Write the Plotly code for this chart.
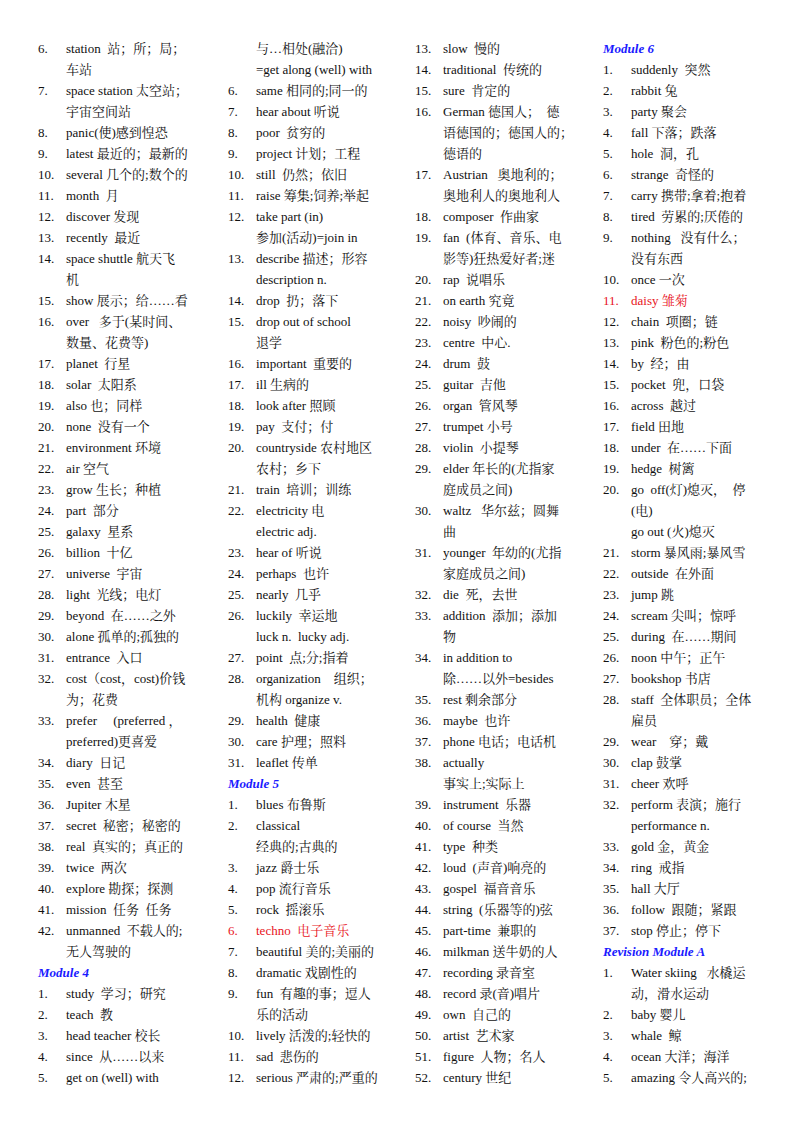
import plotly.graph_objects as go

# each column: (number, text); number "" = continuation line, "#" = module heading
col1 = [("6.", "station  站；所；局；"), ("", "车站"), ("7.", "space station 太空站；"), ("", "宇宙空间站"),
        ("8.", "panic(使)感到惶恐"), ("9.", "latest 最近的；最新的"), ("10.", "several 几个的;数个的"),
        ("11.", "month  月"), ("12.", "discover 发现"), ("13.", "recently  最近"),
        ("14.", "space shuttle 航天飞"), ("", "机"), ("15.", "show 展示；给……看"),
        ("16.", "over   多于(某时间、"), ("", "数量、花费等)"), ("17.", "planet  行星"),
        ("18.", "solar  太阳系"), ("19.", "also 也；同样"), ("20.", "none  没有一个"),
        ("21.", "environment 环境"), ("22.", "air 空气"), ("23.", "grow 生长；种植"),
        ("24.", "part  部分"), ("25.", "galaxy  星系"), ("26.", "billion  十亿"),
        ("27.", "universe  宇宙"), ("28.", "light  光线；电灯"), ("29.", "beyond  在……之外"),
        ("30.", "alone 孤单的;孤独的"), ("31.", "entrance  入口"), ("32.", "cost（cost，cost)价钱"),
        ("", "为；花费"), ("33.", "prefer     (preferred ，"), ("", "preferred)更喜爱"),
        ("34.", "diary  日记"), ("35.", "even  甚至"), ("36.", "Jupiter 木星"),
        ("37.", "secret  秘密；秘密的"), ("38.", "real  真实的；真正的"), ("39.", "twice  两次"),
        ("40.", "explore 勘探；探测"), ("41.", "mission  任务  任务"), ("42.", "unmanned  不载人的;"),
        ("", "无人驾驶的"), ("#", "Module 4"), ("1.", "study  学习；研究"), ("2.", "teach  教"),
        ("3.", "head teacher 校长"), ("4.", "since  从……以来"), ("5.", "get on (well) with")]

col2 = [("", "与…相处(融洽)"), ("", "=get along (well) with"), ("6.", "same 相同的;同一的"),
        ("7.", "hear about 听说"), ("8.", "poor  贫穷的"), ("9.", "project 计划；工程"),
        ("10.", "still  仍然；依旧"), ("11.", "raise 筹集;饲养;举起"), ("12.", "take part (in)"),
        ("", "参加(活动)=join in"), ("13.", "describe 描述；形容"), ("", "description n."),
        ("14.", "drop  扔；落下"), ("15.", "drop out of school"), ("", "退学"),
        ("16.", "important  重要的"), ("17.", "ill 生病的"), ("18.", "look after 照顾"),
        ("19.", "pay  支付；付"), ("20.", "countryside 农村地区"), ("", "农村；乡下"),
        ("21.", "train  培训；训练"), ("22.", "electricity 电"), ("", "electric adj."),
        ("23.", "hear of 听说"), ("24.", "perhaps  也许"), ("25.", "nearly  几乎"),
        ("26.", "luckily  幸运地"), ("", "luck n.  lucky adj."), ("27.", "point  点;分;指着"),
        ("28.", "organization    组织；"), ("", "机构 organize v."), ("29.", "health  健康"),
        ("30.", "care 护理；照料"), ("31.", "leaflet 传单"), ("#", "Module 5"),
        ("1.", "blues 布鲁斯"), ("2.", "classical"), ("", "经典的;古典的"), ("3.", "jazz 爵士乐"),
        ("4.", "pop 流行音乐"), ("5.", "rock  摇滚乐"), ("6.", "techno  电子音乐"),
        ("7.", "beautiful 美的;美丽的"), ("8.", "dramatic 戏剧性的"), ("9.", "fun  有趣的事；逗人"),
        ("", "乐的活动"), ("10.", "lively 活泼的;轻快的"), ("11.", "sad  悲伤的"),
        ("12.", "serious 严肃的;严重的")]

col3 = [("13.", "slow  慢的"), ("14.", "traditional  传统的"), ("15.", "sure  肯定的"),
        ("16.", "German 德国人；  德"), ("", "语德国的；德国人的；"), ("", "德语的"),
        ("17.", "Austrian   奥地利的；"), ("", "奥地利人的奥地利人"), ("18.", "composer  作曲家"),
        ("19.", "fan  (体育、音乐、电"), ("", "影等)狂热爱好者;迷"), ("20.", "rap  说唱乐"),
        ("21.", "on earth 究竟"), ("22.", "noisy  吵闹的"), ("23.", "centre  中心."),
        ("24.", "drum  鼓"), ("25.", "guitar  吉他"), ("26.", "organ  管风琴"),
        ("27.", "trumpet 小号"), ("28.", "violin  小提琴"), ("29.", "elder 年长的(尤指家"),
        ("", "庭成员之间)"), ("30.", "waltz   华尔兹；圆舞"), ("", "曲"),
        ("31.", "younger  年幼的(尤指"), ("", "家庭成员之间)"), ("32.", "die  死，去世"),
        ("33.", "addition  添加；添加"), ("", "物"), ("34.", "in addition to"),
        ("", "除……以外=besides"), ("35.", "rest 剩余部分"), ("36.", "maybe  也许"),
        ("37.", "phone 电话；电话机"), ("38.", "actually"), ("", "事实上;实际上"),
        ("39.", "instrument  乐器"), ("40.", "of course  当然"), ("41.", "type  种类"),
        ("42.", "loud  (声音)响亮的"), ("43.", "gospel  福音音乐"), ("44.", "string  (乐器等的)弦"),
        ("45.", "part-time  兼职的"), ("46.", "milkman 送牛奶的人"), ("47.", "recording 录音室"),
        ("48.", "record 录(音)唱片"), ("49.", "own  自己的"), ("50.", "artist  艺术家"),
        ("51.", "figure  人物；名人"), ("52.", "century 世纪")]

col4 = [("#", "Module 6"), ("1.", "suddenly  突然"), ("2.", "rabbit 兔"), ("3.", "party 聚会"),
        ("4.", "fall 下落；跌落"), ("5.", "hole  洞，孔"), ("6.", "strange  奇怪的"),
        ("7.", "carry 携带;拿着;抱着"), ("8.", "tired  劳累的;厌倦的"), ("9.", "nothing   没有什么；"),
        ("", "没有东西"), ("10.", "once 一次"), ("11.", "daisy 雏菊"), ("12.", "chain  项圈；链"),
        ("13.", "pink  粉色的;粉色"), ("14.", "by  经；由"), ("15.", "pocket  兜，口袋"),
        ("16.", "across  越过"), ("17.", "field 田地"), ("18.", "under  在……下面"),
        ("19.", "hedge  树篱"), ("20.", "go  off(灯)熄灭，  停"), ("", "(电)"),
        ("", "go out (火)熄灭"), ("21.", "storm 暴风雨;暴风雪"), ("22.", "outside  在外面"),
        ("23.", "jump 跳"), ("24.", "scream 尖叫；惊呼"), ("25.", "during  在……期间"),
        ("26.", "noon 中午；正午"), ("27.", "bookshop 书店"), ("28.", "staff  全体职员；全体"),
        ("", "雇员"), ("29.", "wear    穿；戴"), ("30.", "clap 鼓掌"), ("31.", "cheer 欢呼"),
        ("32.", "perform 表演；施行"), ("", "performance n."), ("33.", "gold 金，黄金"),
        ("34.", "ring  戒指"), ("35.", "hall 大厅"), ("36.", "follow  跟随；紧跟"),
        ("37.", "stop 停止；停下"), ("#", "Revision Module A"), ("1.", "Water skiing   水橇运"),
        ("", "动，滑水运动"), ("2.", "baby 婴儿"), ("3.", "whale  鲸"), ("4.", "ocean 大洋；海洋"),
        ("5.", "amazing 令人高兴的;")]

red_items = {"techno  电子音乐", "daisy 雏菊"}

# left edges of each column (plotly text has a small built-in pad, hence the -8)
columns = [(col1, 30), (col2, 220), (col3, 407), (col4, 595)]
TOP, STEP = 42, 21.0
FONT = "Liberation Serif, Noto Serif CJK SC, Noto Sans CJK SC, serif"

fig = go.Figure()
for items, x0 in columns:
    for i, (num, text) in enumerate(items):
        y = TOP + i * STEP
        if num == "#":
            fig.add_trace(go.Scatter(x=[x0], y=[y], mode="text", text=[f"<b><i>{text}</i></b>"],
                                     textposition="middle right",
                                     textfont=dict(family=FONT, size=13, color="#1a1aff")))
            continue
        color = "#e8141c" if text in red_items else "#111111"
        if num:
            fig.add_trace(go.Scatter(x=[x0], y=[y], mode="text", text=[num],
                                     textposition="middle right",
                                     textfont=dict(family=FONT, size=13, color=color)))
        fig.add_trace(go.Scatter(x=[x0 + 28], y=[y], mode="text", text=[text],
                                 textposition="middle right",
                                 textfont=dict(family=FONT, size=13, color=color)))

fig.update_layout(width=800, height=1132, margin=dict(l=0, r=0, t=0, b=0),
                  plot_bgcolor="white", paper_bgcolor="white", showlegend=False,
                  xaxis=dict(range=[0, 800], visible=False, fixedrange=True),
                  yaxis=dict(range=[1132, 0], visible=False, fixedrange=True))
fig.write_html("out.html")
